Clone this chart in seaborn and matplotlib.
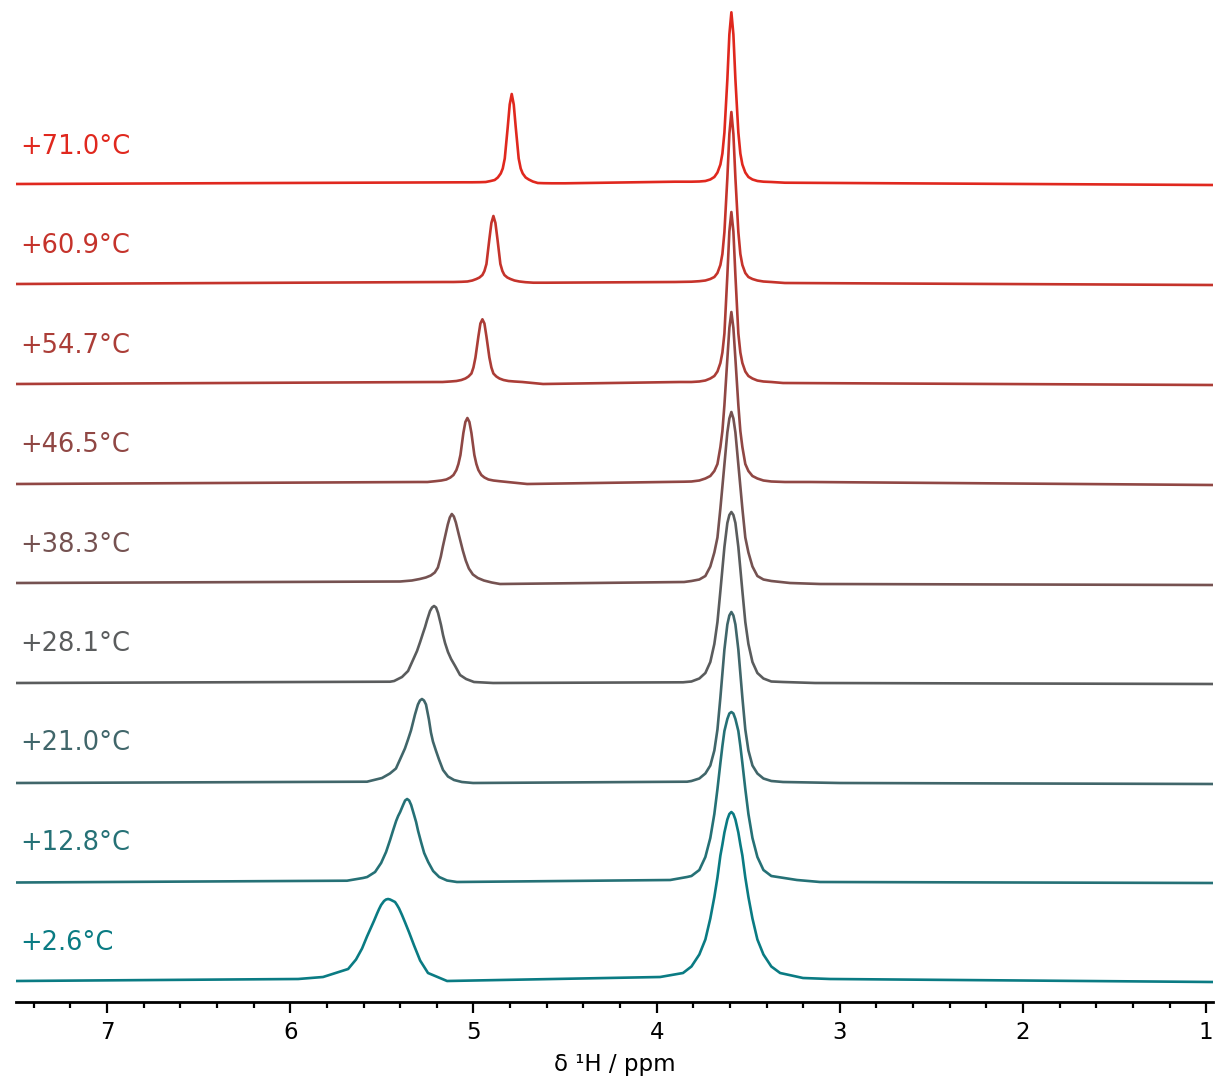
import numpy as np
import pandas as pd
import matplotlib
matplotlib.use("Agg")
import matplotlib.pyplot as plt
import seaborn as sns
from matplotlib.ticker import MultipleLocator

# ---------------- data ----------------
temperatures = ["+2.6°C", "+12.8°C", "+21.0°C", "+28.1°C", "+38.3°C",
                "+46.5°C", "+54.7°C", "+60.9°C", "+71.0°C"]

# sampling offsets (ppm) around each peak centre, left -> right
peak_offsets = [0.218, 0.175, 0.142, 0.115, 0.093, 0.076, 0.060, 0.049, 0.038, 0.022, 0.011, 0.0,
                -0.011, -0.022, -0.038, -0.049, -0.060, -0.076, -0.093, -0.115, -0.142, -0.175, -0.218]

# OH peak (moves with temperature)
oh_centre = [5.466, 5.362, 5.281, 5.215, 5.118, 5.033, 4.951, 4.891, 4.791]
oh_02_6 = [11.5, 21, 32, 44, 53, 60, 67, 71.5, 75.5, 79.5, 81, 81.5, 81, 80, 78.5, 75.5, 72, 65.5, 58, 48, 35, 20, 7.5]
oh_12_8 = [4, 9, 18, 29, 41, 51, 60, 65, 69, 76, 80.5, 82, 80.5, 76, 66, 59, 50, 39, 28, 19, 10, 4, 0.5]
oh_21_0 = [3.5, 8, 13, 24, 33, 42, 51, 59, 67, 77, 81, 82.5, 81, 77, 62, 49, 40, 31, 22, 11.5, 5, 1.5, -0.5]
oh_28_1 = [1, 5, 11, 22, 31, 40, 49, 55, 62, 71, 74.5, 76, 74.5, 69, 57, 47, 39, 30, 23, 16, 7, 3, 0]
oh_38_3 = [2, 3.5, 5, 7, 10, 15, 26, 36, 45, 58, 65, 68.5, 66, 60, 48, 40, 32, 22, 14, 8, 4.5, 2, 0]
oh_46_5 = [1, 1.8, 2.5, 3.5, 5.5, 8, 13, 19, 28, 50, 61, 65, 61, 50, 28, 19, 13, 8, 5.5, 3.5, 2.5, 1.8, 1]
oh_54_7 = [1.5, 2, 2.5, 3.5, 5, 7, 10, 16, 26, 47, 60, 64.2, 60, 47, 26, 16, 10, 7, 5, 3.5, 2.5, 2, 1.5]
oh_60_9 = [2, 2.2, 2.5, 3.5, 5, 6.5, 9, 13, 20, 45, 61, 68, 61, 45, 20, 13, 9, 6.5, 5, 3.5, 2.5, 1.8, 1.3]
oh_71_0 = [2.2, 2.3, 2.5, 3.5, 4.5, 7, 11, 16, 26, 57, 80, 90.5, 80, 57, 26, 16, 11, 7, 5, 3, 1.5, 1.3, 1.2]

# main peak at ~3.59 ppm
main_centre = [3.592] * 9
main_02_6 = [14, 26, 41, 62, 83.5, 103, 125, 136, 148, 161, 166.5, 168.5, 166.5, 161, 148, 136, 125, 103, 83.5, 62, 41, 26, 14]
main_12_8 = [5, 11, 24, 43, 67, 92, 118, 135, 150, 162, 167.5, 169, 167.5, 162, 150, 135, 118, 92, 67, 43, 24, 11, 5]
main_21_0 = [0.5, 3, 8, 16, 31, 52, 84, 108, 132, 157, 166, 169.5, 166, 157, 132, 108, 84, 52, 31, 16, 8, 3, 0.5]
main_28_1 = [0.5, 3.5, 9, 20, 38, 60, 91, 113, 135, 159, 167, 170, 167, 159, 135, 113, 91, 60, 38, 20, 9, 3.5, 0.5]
main_38_3 = [1.5, 3, 6.5, 16, 30, 45, 74, 96, 118, 150, 164, 170.5, 164, 150, 118, 96, 74, 45, 30, 16, 6.5, 3, 1.5]
main_46_5 = [1.5, 2.5, 4.5, 7, 12, 19, 36, 52, 78, 124, 155, 171, 155, 124, 78, 52, 36, 19, 12, 7, 4.5, 2.5, 1.5]
main_54_7 = [1.5, 2, 3, 5, 7.5, 12, 20.5, 31, 50, 108, 152, 171.5, 152, 108, 50, 31, 20.5, 12, 7.5, 5, 3, 2, 1.5]
main_60_9 = [2.3, 2.8, 3.5, 5, 7, 11, 19, 30, 52, 106, 150, 172, 150, 106, 52, 30, 19, 11, 7, 5, 3.5, 2.5, 2]
main_71_0 = [2.8, 3, 3.5, 5, 7.5, 12, 20, 31, 52, 105, 150, 172.2, 150, 105, 52, 31, 20, 12, 7.5, 5, 3.5, 2.8, 2.5]

# baseline points outside the peaks (ppm, intensity)
base_ppm_02_6 = [7.497, 5.957, 5.821, 5.144, 3.981, 3.856, 3.326, 3.201, 3.053, 0.963]
base_int_02_6 = [-0.5, 1.5, 3.5, -0.5, 3.5, 7.5, 7.5, 2.5, 1.5, -1.5]
base_ppm_12_8 = [7.497, 5.690, 5.603, 5.090, 3.926, 3.834, 3.234, 3.108, 0.963]
base_int_12_8 = [-1.5, 0.3, 3, -1, 1, 4, 1, -1, -2]
base_ppm_21_0 = [7.497, 5.581, 5.002, 3.834, 3.310, 2.999, 0.963]
base_int_21_0 = [-1.5, -0.2, -1.5, -0.2, -0.5, -1.5, -2.5]
base_ppm_28_1 = [7.497, 5.455, 4.893, 3.856, 3.310, 3.135, 0.963]
base_int_28_1 = [-1, 0.3, -1, -0.3, 0, -1, -2]
base_ppm_38_3 = [7.497, 5.400, 4.855, 3.850, 3.272, 3.108, 0.963]
base_int_38_3 = [-0.5, 1.0, -1.5, 0.5, -0.5, -1.5, -2.5]
base_ppm_46_5 = [7.497, 5.300, 4.707, 3.850, 3.300, 3.163, 0.963]
base_int_46_5 = [-1, 1, -1, 1.3, 1, 1, -2]
base_ppm_54_7 = [7.497, 5.200, 4.620, 3.872, 3.310, 0.963]
base_int_54_7 = [-0.5, 1.5, -0.5, 1.5, 0.5, -1.5]
base_ppm_60_9 = [7.497, 5.150, 4.600, 3.900, 3.300, 0.963]
base_int_60_9 = [0, 2, 1.3, 2, 1, -1]
base_ppm_71_0 = [7.497, 5.050, 4.500, 3.900, 3.300, 0.963]
base_int_71_0 = [0.5, 2.2, 1.2, 2.8, 1.8, -0.5]

oh_series = [oh_02_6, oh_12_8, oh_21_0, oh_28_1, oh_38_3, oh_46_5, oh_54_7, oh_60_9, oh_71_0]
main_series = [main_02_6, main_12_8, main_21_0, main_28_1, main_38_3,
               main_46_5, main_54_7, main_60_9, main_71_0]
base_ppm_series = [base_ppm_02_6, base_ppm_12_8, base_ppm_21_0, base_ppm_28_1, base_ppm_38_3,
                   base_ppm_46_5, base_ppm_54_7, base_ppm_60_9, base_ppm_71_0]
base_int_series = [base_int_02_6, base_int_12_8, base_int_21_0, base_int_28_1, base_int_38_3,
                   base_int_46_5, base_int_54_7, base_int_60_9, base_int_71_0]

colors = ["#0a7b83", "#257176", "#40666a", "#5a5c5d", "#755251",
          "#904744", "#ab3d37", "#c5332b", "#e0281e"]

# ---------------- styling / layout ----------------
sns.set_theme(style="ticks")
plt.rcParams["font.family"] = ["DejaVu Sans"]

spacing = 99.5  # vertical stacking offset

frames = []
for i, t in enumerate(temperatures):
    xs = (list(base_ppm_series[i])
          + [oh_centre[i] + o for o in peak_offsets]
          + [main_centre[i] + o for o in peak_offsets])
    ys = (list(base_int_series[i]) + list(oh_series[i]) + list(main_series[i]))
    d = pd.DataFrame({"ppm": xs, "y": np.asarray(ys, float) + i * spacing})
    d = d.sort_values("ppm", ascending=False).reset_index(drop=True)
    d["trace"] = t
    frames.append(d)
df = pd.concat(frames, ignore_index=True)

fig = plt.figure(figsize=(12.15, 10.77), dpi=100)
ax = fig.add_axes([16 / 1215, 75 / 1077, 1197 / 1215, 1002 / 1077])

sns.lineplot(data=df, x="ppm", y="y", hue="trace", hue_order=temperatures,
             palette=colors, estimator=None, sort=False, units="trace",
             linewidth=1.9, legend=False, ax=ax)
for ln in ax.lines:
    ln.set_solid_joinstyle("round")

ax.set_xlim(7.497, 0.963)
ax.set_ylim(-21.5, 980.5)

for i, (t, c) in enumerate(zip(temperatures, colors)):
    ax.text(4 / 1197, i * spacing + 38, t, color=c, fontsize=18.5,
            ha="left", va="center",
            transform=ax.get_yaxis_transform())

for s in ["left", "right", "top"]:
    ax.spines[s].set_visible(False)
ax.spines["bottom"].set_linewidth(2.0)
ax.spines["bottom"].set_color("black")
ax.set_yticks([])
ax.set_ylabel("")

ax.xaxis.set_major_locator(MultipleLocator(1))
ax.xaxis.set_minor_locator(MultipleLocator(0.2))
ax.tick_params(axis="x", which="major", length=8, width=1.6, color="black",
               labelsize=16.5, pad=6, labelcolor="black", direction="out")
ax.tick_params(axis="x", which="minor", length=4, width=1.6, color="black",
               direction="out")
ax.set_xticks([7, 6, 5, 4, 3, 2, 1])
ax.set_xticklabels(["7", "6", "5", "4", "3", "2", "1"])
ax.set_xlabel("δ ¹H / ppm", fontsize=16.5, labelpad=6, color="black")

fig.savefig("out.png", dpi=100)
